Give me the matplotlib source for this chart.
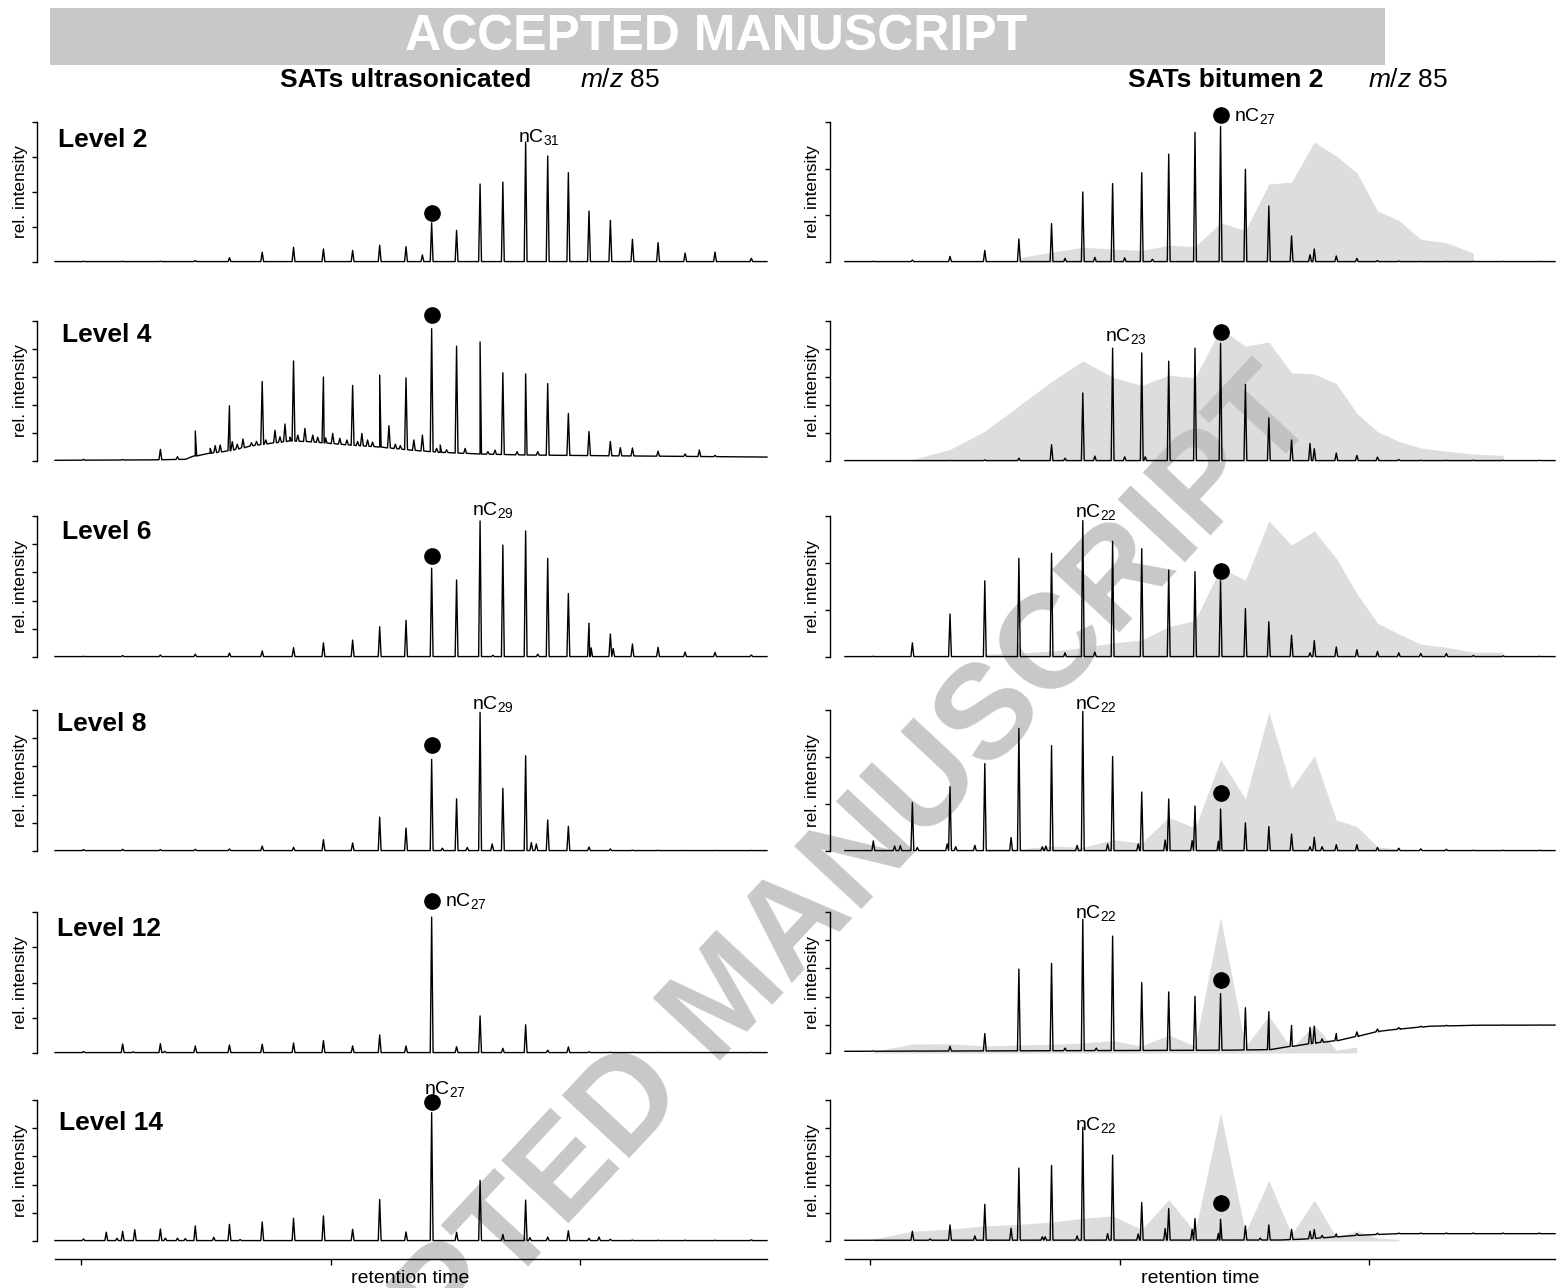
import numpy as np
import matplotlib.pyplot as plt
from matplotlib.patches import Rectangle

plt.rcParams['font.family'] = ['Liberation Sans', 'DejaVu Sans']
plt.rcParams['mathtext.fontset'] = 'custom'
plt.rcParams['mathtext.rm'] = 'Liberation Sans'
plt.rcParams['mathtext.it'] = 'Liberation Sans:italic'
plt.rcParams['mathtext.bf'] = 'Liberation Sans:bold'

# n-alkanes C16..C40 and their retention time (arbitrary units over the run)
carbons = list(range(16, 41))
rt = [4.0, 9.5, 14.8, 19.7, 24.5, 29.1, 33.5, 37.7, 41.8, 45.6, 49.3, 52.9, 56.4,
      59.7, 62.9, 66.1, 69.2, 72.1, 75.0, 78.0, 81.1, 84.7, 88.5, 92.7, 97.8]

levels = [2, 4, 6, 8, 12, 14]

# SATs ultrasonicated: n-alkane peak tops (fraction of axis height)
us_l2 = [0.005, 0.005, 0.005, 0.01, 0.03, 0.07, 0.105, 0.093, 0.083, 0.12, 0.11, 0.28, 0.226,
         0.557, 0.571, 0.857, 0.757, 0.638, 0.364, 0.298, 0.162, 0.138, 0.064, 0.071, 0.026]
us_l4 = [0.012, 0.01, 0.083, 0.214, 0.394, 0.568, 0.715, 0.6, 0.54, 0.613, 0.594, 0.945, 0.82,
         0.85, 0.63, 0.622, 0.553, 0.34, 0.21, 0.14, 0.093, 0.07, 0.05, 0.04, 0.03]
us_l6 = [0.005, 0.01, 0.014, 0.02, 0.028, 0.043, 0.066, 0.1, 0.12, 0.215, 0.26, 0.63, 0.546,
         0.965, 0.794, 0.894, 0.7, 0.45, 0.24, 0.163, 0.092, 0.069, 0.035, 0.033, 0.014]
us_l8 = [0.01, 0.012, 0.01, 0.012, 0.014, 0.035, 0.026, 0.08, 0.057, 0.24, 0.163, 0.65, 0.37,
         0.983, 0.445, 0.675, 0.22, 0.175, 0.028, 0.014, 0.006, 0.005, 0.004, 0.004, 0.004]
us_l12 = [0.01, 0.064, 0.066, 0.05, 0.057, 0.062, 0.071, 0.088, 0.05, 0.128, 0.05, 0.964, 0.045,
          0.263, 0.033, 0.2, 0.02, 0.043, 0.008, 0.005, 0.004, 0.004, 0.004, 0.004, 0.004]
us_l14 = [0.014, 0.069, 0.085, 0.107, 0.118, 0.135, 0.161, 0.178, 0.083, 0.294, 0.064, 0.91, 0.062,
          0.43, 0.047, 0.29, 0.028, 0.073, 0.02, 0.012, 0.006, 0.005, 0.005, 0.005, 0.008]

# other resolved peaks (retention time, top)
us_l2_minor = [(51.6, 0.05)]
us_l4_minor = [(17.2, 0.031), (21.8, 0.09), (22.5, 0.11), (23.2, 0.114), (24.9, 0.138), (25.6, 0.12),
               (26.4, 0.157), (27.6, 0.13), (28.3, 0.14), (29.6, 0.15), (30.9, 0.219), (31.6, 0.173),
               (32.3, 0.264), (33.0, 0.17), (34.1, 0.185), (35.1, 0.233), (36.2, 0.185), (36.9, 0.17),
               (38.0, 0.165), (39.0, 0.197), (40.0, 0.162), (41.0, 0.15), (42.5, 0.14), (43.1, 0.197),
               (43.9, 0.15), (44.6, 0.135), (46.9, 0.252), (47.8, 0.12), (48.5, 0.11), (50.4, 0.15),
               (51.6, 0.185), (53.6, 0.09), (54.1, 0.114), (55.0, 0.08), (57.6, 0.09), (60.8, 0.067),
               (61.8, 0.078), (64.9, 0.067), (67.8, 0.067), (79.4, 0.095), (90.5, 0.078)]
us_l6_minor = [(61.5, 0.012), (67.8, 0.02), (75.3, 0.065), (78.4, 0.06)]
us_l8_minor = [(54.4, 0.02), (57.9, 0.025), (61.4, 0.05), (66.9, 0.06), (67.6, 0.05)]
us_l12_minor = [(11.0, 0.008), (15.4, 0.012)]
us_l14_minor = [(7.2, 0.062), (8.7, 0.02), (11.2, 0.08), (15.5, 0.02), (17.2, 0.02), (18.3, 0.017),
                (22.3, 0.026), (26.0, 0.01), (66.7, 0.024), (76.4, 0.028)]

# baseline (unresolved hump in level 4)
flat_x = [0, 100]
flat_y = [0.003, 0.003]
us_l4_base_x = [0, 13.4, 18.3, 19.7, 21.8, 24.6, 27.4, 30.2, 33.0, 35.8, 38.6, 41.4, 45.6, 49.9,
                54.1, 59.7, 66.0, 76.5, 100]
us_l4_base_y = [0.005, 0.008, 0.012, 0.036, 0.055, 0.074, 0.107, 0.126, 0.143, 0.138, 0.126, 0.114,
                0.1, 0.078, 0.062, 0.05, 0.043, 0.038, 0.028]

# SATs bitumen 2
bit_l2 = [0.005, 0.014, 0.04, 0.083, 0.164, 0.274, 0.5, 0.56, 0.638, 0.77, 0.926, 0.967, 0.662,
          0.4, 0.186, 0.093, 0.043, 0.026, 0.01, 0.006, 0.004, 0.004, 0.004, 0.004, 0.004]
bit_l4 = [0.003, 0.003, 0.004, 0.008, 0.02, 0.116, 0.486, 0.806, 0.772, 0.713, 0.806, 0.84, 0.547,
          0.308, 0.15, 0.088, 0.057, 0.04, 0.028, 0.01, 0.005, 0.005, 0.005, 0.005, 0.005]
bit_l6 = [0.005, 0.1, 0.305, 0.54, 0.7, 0.735, 0.967, 0.82, 0.768, 0.617, 0.605, 0.54, 0.343,
          0.25, 0.154, 0.116, 0.071, 0.052, 0.04, 0.03, 0.025, 0.025, 0.01, 0.008, 0.005]
bit_l8 = [0.071, 0.343, 0.456, 0.62, 0.87, 0.747, 0.99, 0.67, 0.418, 0.369, 0.319, 0.298, 0.2,
          0.173, 0.12, 0.097, 0.045, 0.045, 0.025, 0.02, 0.015, 0.012, 0.005, 0.005, 0.005]
bit_l12 = [0.015, 0.015, 0.048, 0.138, 0.595, 0.636, 0.948, 0.829, 0.5, 0.433, 0.402, 0.421, 0.321,
           0.293, 0.195, 0.19, 0.138, 0.15, 0.17, 0.18, 0.19, 0.196, 0.198, 0.199, 0.199]
bit_l14 = [0.006, 0.069, 0.114, 0.26, 0.517, 0.536, 0.806, 0.609, 0.273, 0.23, 0.159, 0.154, 0.107,
           0.114, 0.083, 0.081, 0.05, 0.052, 0.055, 0.056, 0.056, 0.056, 0.056, 0.056, 0.056]

bit_l2_minor = [(31.0, 0.026), (35.2, 0.033), (39.4, 0.03), (43.3, 0.02), (65.5, 0.052)]
bit_l4_minor = [(31.0, 0.02), (35.2, 0.035), (39.4, 0.03), (42.3, 0.03), (65.5, 0.126)]
bit_l6_minor = [(31.0, 0.03), (35.2, 0.035), (65.5, 0.03)]
bit_l8_minor = [(7.0, 0.035), (7.8, 0.038), (10.2, 0.025), (14.4, 0.05), (15.6, 0.03), (18.3, 0.04),
                (23.4, 0.095), (27.8, 0.03), (28.3, 0.035), (32.7, 0.04), (37.0, 0.05), (41.3, 0.05),
                (45.1, 0.078), (48.9, 0.073), (52.6, 0.07), (65.5, 0.03), (67.2, 0.03)]
bit_l12_minor = [(31.0, 0.035), (35.4, 0.035), (65.5, 0.181), (67.2, 0.1)]
bit_l14_minor = [(12.0, 0.015), (18.3, 0.036), (23.4, 0.09), (27.8, 0.03), (28.2, 0.03), (32.7, 0.036),
                 (37.0, 0.052), (41.3, 0.05), (45.1, 0.088), (48.9, 0.083), (52.6, 0.054), (58.5, 0.02),
                 (65.5, 0.069), (67.2, 0.04)]

bit_l12_base_x = [0, 54.2, 59.8, 63.0, 66.3, 69.3, 72.3, 75.4, 78.2, 82.4, 89.4, 100]
bit_l12_base_y = [0.012, 0.02, 0.024, 0.048, 0.071, 0.088, 0.119, 0.155, 0.17, 0.19, 0.197, 0.198]
bit_l14_base_x = [0, 61.3, 64.8, 69.3, 72.3, 75.4, 78.2, 100]
bit_l14_base_y = [0.005, 0.007, 0.014, 0.03, 0.04, 0.047, 0.052, 0.052]

# marked n-C27 (dot) and annotated n-alkane per panel
us_dot = [0.35, 1.04, 0.715, 0.755, 1.076, 0.988]
bit_dot = [1.05, 0.924, 0.61, 0.41, 0.519, 0.273]
us_label_c = [31, None, 29, 29, 27, 27]
bit_label_c = [27, 23, 22, 22, 22, 22]

# ultrasonicated n-alkane envelope overlaid on bitumen panels: first/last carbon
overlay_first = [20, 17, 19, 19, 16, 16]
overlay_last = [38, 39, 39, 35, 33, 35]

us_peaks = [us_l2, us_l4, us_l6, us_l8, us_l12, us_l14]
us_minor = [us_l2_minor, us_l4_minor, us_l6_minor, us_l8_minor, us_l12_minor, us_l14_minor]
us_base = [(flat_x, flat_y), (us_l4_base_x, us_l4_base_y), (flat_x, flat_y), (flat_x, flat_y),
           (flat_x, flat_y), (flat_x, flat_y)]
bit_peaks = [bit_l2, bit_l4, bit_l6, bit_l8, bit_l12, bit_l14]
bit_minor = [bit_l2_minor, bit_l4_minor, bit_l6_minor, bit_l8_minor, bit_l12_minor, bit_l14_minor]
bit_base = [(flat_x, flat_y), (flat_x, flat_y), (flat_x, flat_y), (flat_x, flat_y),
            (bit_l12_base_x, bit_l12_base_y), (bit_l14_base_x, bit_l14_base_y)]

# layout (pixels of the 1560x1288 canvas)
W, H = 1560, 1288
rows_px = [(122, 262), (321, 461), (516, 657), (710, 851), (912, 1053), (1100, 1241)]
us_ticks = [5, 6, 6, 6, 5, 6]
bit_ticks = [4, 6, 4, 4, 6, 6]
us_label_y = [0.86, None, 1.007, 1.007, 1.04, 1.04]
bit_label_y = [1.01, 0.86, 0.99, 1.01, 0.96, 0.79]
level_pos = [(0.029, 0.87), (0.034, 0.9), (0.034, 0.89), (0.027, 0.9), (0.027, 0.88), (0.030, 0.84)]
GRAY = '#c8c8c8'


def chromatogram(heights, minor, base_x, base_y):
    pts = list(zip(base_x, base_y))
    for x, top in list(zip(rt, heights)) + minor:
        foot = np.interp(x, base_x, base_y)
        pts += [(x - 0.2, foot), (x, top), (x + 0.2, foot)]
    pts.sort()
    return [p[0] for p in pts], [p[1] for p in pts]


def style(ax, n_ticks, xmin):
    ax.set_xlim(xmin, 100)
    ax.set_ylim(0, 1)
    ax.set_facecolor('none')
    for s in ['top', 'right', 'bottom']:
        ax.spines[s].set_visible(False)
    ax.spines['left'].set_linewidth(1.0)
    ax.set_yticks(np.linspace(0, 1, n_ticks))
    ax.set_xticks([])
    ax.tick_params(axis='y', direction='out', length=3.8, width=1.0, labelleft=False)
    ax.set_ylabel('rel. intensity', fontsize=12.5)


def label(ax, c, y, beside_dot):
    x = rt[carbons.index(c)]
    text = 'nC$_{%d}$' % c
    if beside_dot:
        ax.text(x + 1.9, y, text, ha='left', va='baseline', fontsize=14, clip_on=False)
    else:
        ax.text(x + 1.8, y, text, ha='center', va='baseline', fontsize=14, clip_on=False)


fig = plt.figure(figsize=(W / 100, H / 100), dpi=100)

# watermark behind the panels
fig.text(730 / W, 1 - 1000 / H, 'ACCEPTED MANUSCRIPT', rotation=47, rotation_mode='anchor',
         ha='center', va='center', fontsize=96, fontweight='bold', color=GRAY, zorder=-5)

fig.patches.append(Rectangle((50 / W, 1 - 65 / H), 1335 / W, 57 / H, transform=fig.transFigure,
                             facecolor=GRAY, edgecolor='none', zorder=1))
fig.text(716 / W, 1 - 37 / H, 'ACCEPTED MANUSCRIPT', ha='center', va='center', fontsize=36,
         fontweight='bold', color='white', zorder=3)

fig.text(280 / W, 1 - 80 / H, 'SATs ultrasonicated', ha='left', va='center', fontsize=19, fontweight='bold')
fig.text(580 / W, 1 - 80 / H, '$\\mathit{m/z}$ 85', ha='left', va='center', fontsize=19)
fig.text(1128 / W, 1 - 80 / H, 'SATs bitumen 2', ha='left', va='center', fontsize=19, fontweight='bold')
fig.text(1368 / W, 1 - 80 / H, '$\\mathit{m/z}$ 85', ha='left', va='center', fontsize=19)

for i, level in enumerate(levels):
    top, bot = rows_px[i]
    y0, h = 1 - bot / H, (bot - top) / H

    # left: ultrasonicated
    ax = fig.add_axes([37 / W, y0, 730 / W, h])
    style(ax, us_ticks[i], -2.53)
    ax.yaxis.set_label_coords(-0.012, 0.5)
    xs, ys = chromatogram(us_peaks[i], us_minor[i], *us_base[i])
    ax.plot(xs, ys, color='black', lw=1.0, clip_on=False, zorder=2)
    ax.plot(rt[carbons.index(27)], us_dot[i], 'o', color='black', ms=11, clip_on=False, zorder=4)
    if us_label_c[i] is not None:
        label(ax, us_label_c[i], us_label_y[i], i == 4)
    ax.text(level_pos[i][0], level_pos[i][1], 'Level %d' % level, transform=ax.transAxes,
            ha='left', va='center', fontsize=19, fontweight='bold')
    if i == len(levels) - 1:
        ax_bottom_left = ax

    # right: bitumen 2 with the ultrasonicated envelope in grey
    ax = fig.add_axes([830 / W, y0, 725 / W, h])
    style(ax, bit_ticks[i], -2.1)
    ax.yaxis.set_label_coords(-0.014, 0.5)
    a = carbons.index(overlay_first[i])
    b = carbons.index(overlay_last[i]) + 1
    ax.fill_between(rt[a:b], 0, us_peaks[i][a:b], color='#bebebe', alpha=0.51, lw=0, zorder=1)
    xs, ys = chromatogram(bit_peaks[i], bit_minor[i], *bit_base[i])
    ax.plot(xs, ys, color='black', lw=1.0, clip_on=False, zorder=2)
    ax.plot(rt[carbons.index(27)], bit_dot[i], 'o', color='black', ms=11, clip_on=False, zorder=4)
    label(ax, bit_label_c[i], bit_label_y[i], i == 0)
    if i == len(levels) - 1:
        ax_bottom_right = ax

# retention time axes under the last row
for ax in [ax_bottom_left, ax_bottom_right]:
    ax.spines['bottom'].set_visible(True)
    ax.spines['bottom'].set_position(('outward', 13))
    ax.spines['bottom'].set_bounds(0, 100)
    ax.spines['bottom'].set_linewidth(1.0)
    ax.set_xticks([3.6, 38.7, 73.8])
    ax.tick_params(axis='x', direction='out', length=4.5, width=1.0, labelbottom=False)
    ax.set_xlabel('retention time', fontsize=14)
    ax.xaxis.set_label_coords(0.511, -0.206)

fig.savefig('out.png', dpi=100)
